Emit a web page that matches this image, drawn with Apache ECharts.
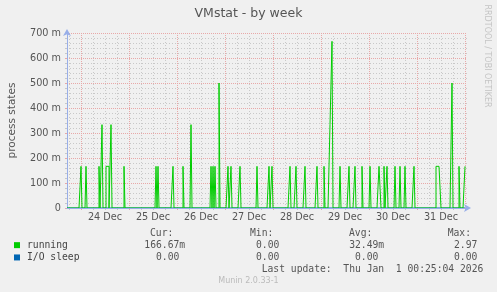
<!DOCTYPE html>
<html><head><meta charset="utf-8">
<script src="https://cdn.jsdelivr.net/npm/echarts@6/dist/echarts.min.js"></script>
<style>html,body{margin:0;padding:0;background:#f0f0f0;}#c{width:497px;height:292px;}</style>
</head><body><div id="c"></div>
<script>
// Hours are counted from 24 Dec 2025 00:00 (local)
const axisStartHour = -7;
const axisEndHour = 193;
const dayLabels = ['24 Dec','25 Dec','26 Dec','27 Dec','28 Dec','29 Dec','30 Dec','31 Dec'];
const dayLabelHours = [12,36,60,84,108,132,156,180];
const midnightHours = [0,24,48,72,96,120,144,168,192];
const quarterDayHours = [-6,6,12,18,30,36,42,54,60,66,78,84,90,102,108,114,126,132,138,150,156,162,174,180,186];

// 30-minute samples; running process-state averages (non-zero samples)
const sampleStartHour = -7;
const sampleEndHour = 192;
const sampleStep = 0.5;
const runningSpikeHours = [0,2.5,9,10.5,12.5,13,13.5,15,21.5,37.5,38.5,46,51,55,65,66,67,69,73.5,75,79.5,88,94,95.5,
  104.5,107.5,112,118,121.5,124.5,125,125.5,129.5,134,137,140.5,144.5,149,149.5,151.5,153,157,159.5,162,166.5,
  177.5,178,178.5,179,179.5,185.5,189,192];
const runningSpikeValues = [0.16667,0.16667,0.16667,0.33333,0.16667,0.16667,0.16667,0.33333,0.16667,0.16667,0.16667,0.16667,0.16667,0.33333,
  0.16667,0.16667,0.16667,0.5,0.16667,0.16667,0.16667,0.16667,0.16667,0.16667,
  0.16667,0.16667,0.16667,0.16667,0.16667,0.33333,0.33333,0.66667,0.16667,0.16667,0.16667,0.16667,0.16667,0.16667,0.16667,0.16667,0.16667,0.16667,0.16667,0.16667,0.16667,
  0.16667,0.16667,0.16667,0.16667,0.16667,0.5,0.16667,0.16667];
const ioSleepLevel = 0;

const seriesNames = ['running','I/O sleep'];
const seriesColors = ['#00cc00','#0066b3'];
const statHeaders = ['Cur:','Min:','Avg:','Max:'];
const runningStats = ['166.67m','0.00','32.49m','2.97'];
const ioSleepStats = ['0.00','0.00','0.00','0.00'];
const lastUpdate = 'Last update:  Thu Jan  1 00:25:04 2026';

const sampleHours = [];
for (let h = sampleStartHour; h <= sampleEndHour; h += sampleStep) sampleHours.push(h);
const spikeMap = new Map(runningSpikeHours.map((h, i) => [h, runningSpikeValues[i]]));
const runningData = sampleHours.map(h => [h, spikeMap.has(h) ? spikeMap.get(h) : 0]);
const ioSleepData = sampleHours.map(h => [h, ioSleepLevel]);

const SANS = 'DejaVu Sans';
const MONO = 'DejaVu Sans Mono';
const TXT = '#555';
const AXIS = '#98aee8';
const MAJ = '#e8a8a8';
const MIN = '#c8c8c8';

const statCols = [{hx:150, vx:185.2},{hx:250, vx:285.2},{hx:349, vx:384.2},{hx:447.7, vx:483.2}];
const rowsY = [245, 257.3];
const fmtStat = s => /[a-zA-Z]$/.test(s) ? s : s + ' ';
const graphic = [];
statHeaders.forEach((t, i) => graphic.push({type:'text', x: statCols[i].hx, y: 233.3,
  style:{text:t, font:'9.7px "'+MONO+'"', fill:TXT, align:'left', verticalAlign:'middle'}}));
[runningStats, ioSleepStats].forEach((row, r) => row.forEach((t, i) => graphic.push({type:'text', x: statCols[i].vx, y: rowsY[r],
  style:{text:fmtStat(t), font:'9.7px "'+MONO+'"', fill:TXT, align:'right', verticalAlign:'middle'}})));
graphic.push({type:'text', x:483.3, y:269.3, style:{text:lastUpdate, font:'9.7px "'+MONO+'"', fill:TXT, align:'right', verticalAlign:'middle'}});
graphic.push({type:'text', x:248.5, y:281, style:{text:'Munin 2.0.33-1', font:'8px "'+SANS+'"', fill:'#bbb', align:'center', verticalAlign:'middle'}});
graphic.push({type:'text', x:487.5, y:56, rotation:-Math.PI/2, style:{text:'RRDTOOL / TOBI OETIKER', font:'8px "'+SANS+'"', fill:'#c4c4c4', align:'center', verticalAlign:'middle'}});

const chart = echarts.init(document.getElementById('c'), null, {renderer:'canvas'});
chart.setOption({
  animation:false,
  backgroundColor:'#f0f0f0',
  title:{text:'VMstat - by week', left:'center', top:0, padding:[7,0,0,0],
    textStyle:{fontFamily:SANS, fontSize:12.5, fontWeight:'normal', color:TXT}},
  grid:{left:67, right:30, top:33, bottom:84, containLabel:false, outerBoundsMode:'none'},
  legend:{orient:'vertical', left:14, top:239, padding:0, itemWidth:6, itemHeight:6, itemGap:0, icon:'rect', selectedMode:false,
    data:seriesNames,
    textStyle:{fontFamily:MONO, fontSize:9.7, color:'#444', lineHeight:12.3, padding:[0,0,0,2]}},
  xAxis:[
    {type:'value', min:axisStartHour, max:axisEndHour, position:'bottom', z:1,
      axisLine:{show:false, onZero:false},
      axisTick:{show:true, customValues:midnightHours, length:2, lineStyle:{color:MAJ}},
      splitLine:{show:true, lineStyle:{color:MAJ, type:[1,1], width:1}},
      axisLabel:{show:true, customValues:dayLabelHours, margin:4, fontFamily:SANS, fontSize:9.7, color:TXT,
        formatter:v => dayLabels[dayLabelHours.indexOf(Math.round(v))] || ''}},
    {type:'value', min:axisStartHour, max:axisEndHour, position:'bottom', z:0,
      axisLine:{show:false, onZero:false},
      axisTick:{show:true, customValues:quarterDayHours, length:2, lineStyle:{color:MIN}},
      splitLine:{show:true, lineStyle:{color:MIN, type:[1,2], width:1}},
      axisLabel:{show:false}},
    {type:'value', min:axisStartHour, max:axisEndHour, position:'bottom', z:6,
      axisLine:{show:true, onZero:false, lineStyle:{color:AXIS, width:1}, symbol:['none','arrow'], symbolSize:[6,7], symbolOffset:[0,4]},
      axisTick:{show:false}, splitLine:{show:false}, axisLabel:{show:false}}
  ],
  yAxis:{type:'value', min:0, max:0.7, interval:0.1, z:1,
    name:'process states', nameLocation:'middle', nameGap:49,
    nameTextStyle:{fontFamily:SANS, fontSize:10.5, color:TXT},
    axisLine:{show:true, onZero:false, lineStyle:{color:AXIS, width:1}, symbol:['none','arrow'], symbolSize:[6,7], symbolOffset:[0,4]},
    axisTick:{show:true, length:2, lineStyle:{color:MAJ}},
    minorTick:{show:true, splitNumber:5, length:2, lineStyle:{color:MIN}},
    splitLine:{show:true, lineStyle:{color:MAJ, type:[1,1], width:1}},
    minorSplitLine:{show:true, lineStyle:{color:MIN, type:[1,2], width:1}},
    axisLabel:{margin:6, fontFamily:SANS, fontSize:9.7, color:TXT,
      formatter:v => v === 0 ? '0' : Math.round(v * 1000) + ' m'}},
  series:[
    {name:seriesNames[1], type:'line', xAxisIndex:0, step:'end', symbol:'none', data:ioSleepData, z:2,
      lineStyle:{color:seriesColors[1], width:1}, itemStyle:{color:seriesColors[1]}},
    {name:seriesNames[0], type:'line', xAxisIndex:0, step:'end', symbol:'none', data:runningData, z:3,
      lineStyle:{color:seriesColors[0], width:1}, itemStyle:{color:seriesColors[0]}}
  ],
  graphic:graphic
});
</script></body></html>
